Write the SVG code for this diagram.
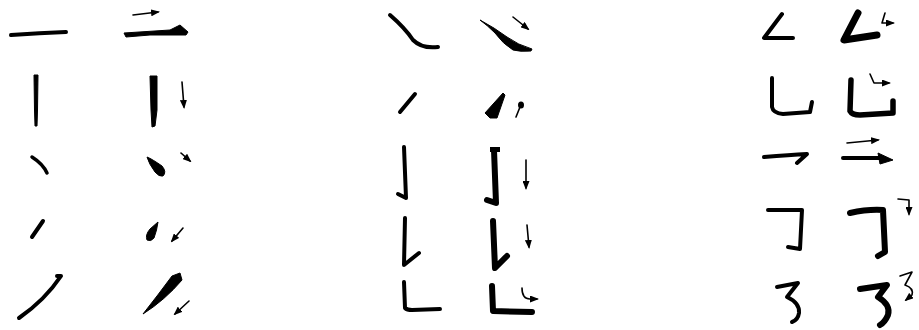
<svg xmlns="http://www.w3.org/2000/svg" width="919" height="330" viewBox="0 0 919 330">
<defs>
<marker id="ah" markerUnits="userSpaceOnUse" markerWidth="9" markerHeight="7" refX="7" refY="3.5" orient="auto">
<path d="M0,0 L9,3.5 L0,7 Z" fill="#000"/>
</marker>
</defs>
<style>
.s{fill:none;stroke:#000;stroke-linecap:round;stroke-linejoin:round;stroke-width:4}
.t{stroke-width:6}
.f{fill:#000;stroke:#000;stroke-width:1;stroke-linejoin:round}
.a{fill:none;stroke:#000;stroke-width:1.6;stroke-linecap:round;stroke-linejoin:round;marker-end:url(#ah)}
</style>
<rect width="919" height="330" fill="#fff"/>
<g id="col1">
<path class="s" d="M11,35 Q40,33 66,32"/>
<path class="f" d="M124,33 L170,30 L180,25 L188,32 L186,35 L150,35 L126,37 Z"/>
<path class="a" d="M133,15 L158,12"/>
<path class="f" d="M34,75 L38,75 L37.5,110 L37,126 L35,126 L34.5,110 Z"/>
<path class="f" d="M150,76 L157,76 L157,110 L155,126 L152,127 L151,110 Z"/>
<path class="a" d="M182,82 L184,107"/>
<path class="s" style="stroke-width:3.5" d="M32,157 Q43,164 47,173"/>
<path class="f" d="M147,157 Q152,159 162,166 Q167,172 163,176 Q159,177 155,172 Q149,164 147,157 Z"/>
<path class="a" d="M181,153 L190,161"/>
<path class="s" d="M43,221 L32,237"/>
<path class="f" d="M158,222 Q157,230 154,238 Q151,242 147,240 Q145,235 150,229 Z"/>
<path class="a" d="M183,228 L172,241"/>
<path class="s" d="M57,276 L61,276 Q45,300 19,318"/>
<path class="f" d="M172,276 L180,273 L182,280 Q165,300 143,314 Q158,295 172,276 Z"/>
<path class="a" d="M189,301 L175,314"/>
</g>
<g id="col2">
<path class="s" d="M390,15 Q405,28 413,40 Q422,49 438,47"/>
<path class="f" d="M480,20 Q495,28 507,37 Q518,45 532,49 L531,51 Q520,52 513,50 Q503,44 495,33 Q487,25 480,20 Z"/>
<path class="a" d="M513,17 L528,29"/>
<path class="s" d="M415,94 L400,112"/>
<path class="f" d="M503,93 L505,95 L497,118 L490,118 L485,113 Z"/>
<ellipse cx="521" cy="105" rx="3" ry="3.5" fill="#000"/>
<path class="s" style="stroke-width:1.6" d="M520,107 L516,117"/>
<path class="s" d="M404,147 L406,198 L398,194"/>
<path class="s t" d="M494,150 L496,203 L487,200"/>
<rect x="490" y="147" width="10" height="5" fill="#000"/>
<path class="a" d="M526,160 L526,188"/>
<path class="s" d="M405,218 L404,265 L419,253"/>
<path class="s t" d="M493,221 L495,268 L507,256"/>
<path class="a" d="M527,225 L529,247"/>
<path class="s" d="M404,282 L405,308 Q407,310 412,310 L440,309"/>
<path class="s t" d="M492,286 L493,311 L532,312"/>
<path class="a" d="M522,288 Q522,299 530,299 L537,299"/>
</g>
<g id="col3">
<path class="s" d="M782,14 L764,38 L793,38"/>
<path class="s" style="stroke-width:7" d="M858,13 L844,40 L877,35"/>
<path class="a" d="M885,13 L882,23 L893,23"/>
<path class="s" d="M772,78 L772,107 Q773,113 783,114 L810,112 L812,102"/>
<path class="s" style="stroke-width:5.5" d="M851,80 L850,111 Q852,115 860,115 L893,113 L893,101"/>
<path class="a" d="M870,74 L874,83 L889,83"/>
<path class="s" d="M764,157 Q790,155 807,154 L797,163"/>
<path class="s" d="M843,158 L880,158"/>
<path class="f" d="M878,153 L893,160 L880,164 Z"/>
<path class="a" d="M847,143 L878,140"/>
<path class="s" d="M768,210 L802,210 L800,249 L788,247"/>
<path class="s t" d="M850,213 Q868,209 883,210 L885,252 L878,256"/>
<path class="a" d="M898,199 L909,200 L909,214"/>
<path class="s" d="M777,287 L798,283 L787,297 Q800,303 799,313 Q798,320 792,322"/>
<path class="s t" d="M860,289 L887,285 L878,297 Q891,305 888,315 Q885,322 880,325"/>
<path class="a" d="M900,276 L912,272 L905,285 Q914,288 912,295 L906,300"/>
</g>
</svg>
